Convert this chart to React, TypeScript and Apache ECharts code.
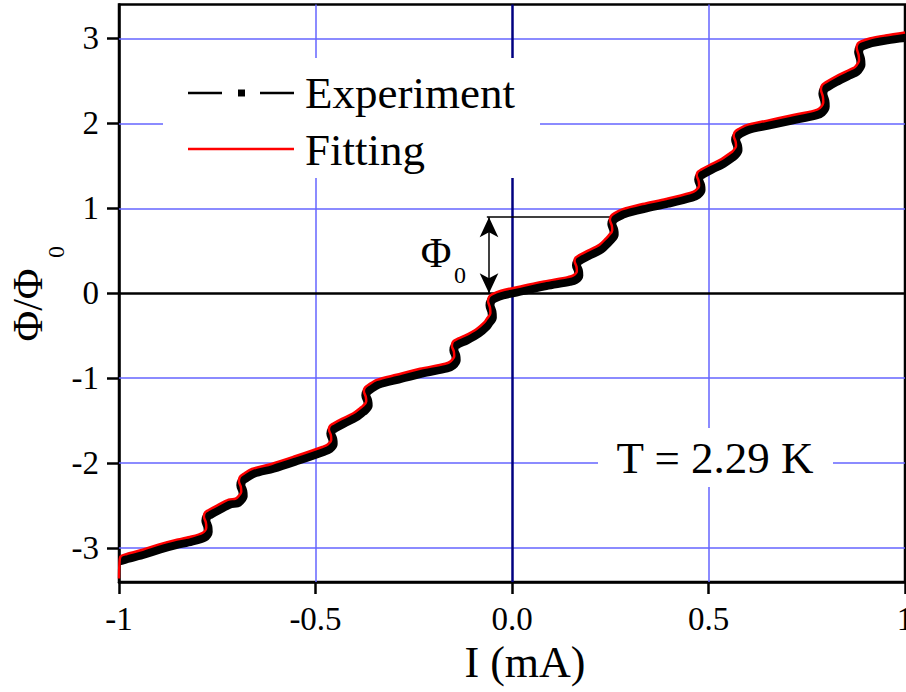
import React, { useEffect, useRef } from "react";
import * as echarts from "echarts";

// Fitting curve: current (mA)
const fittingI = [
  -1.0, -0.999, -0.996, -0.98, -0.94, -0.9, -0.86, -0.82,
  -0.787, -0.778, -0.779, -0.784, -0.781, -0.773, -0.751, -0.721, -0.704, -0.698, -0.689, -0.69, -0.695, -0.692, -0.684, -0.662, -0.612, -0.552, -0.483,
  -0.469, -0.46, -0.461, -0.466, -0.463, -0.455, -0.433, -0.403, -0.386, -0.38, -0.371, -0.372, -0.377, -0.374, -0.366, -0.344, -0.294, -0.234, -0.17,
  -0.156, -0.147, -0.148, -0.153, -0.15, -0.142, -0.12, -0.09, -0.07, -0.064, -0.055, -0.056, -0.061, -0.058, -0.05, -0.028, 0.022, 0.082, 0.142,
  0.156, 0.165, 0.164, 0.159, 0.162, 0.17, 0.192, 0.222, 0.24, 0.246, 0.255, 0.254, 0.249, 0.252, 0.26, 0.282, 0.332, 0.392, 0.453,
  0.467, 0.476, 0.475, 0.47, 0.473, 0.481, 0.503, 0.533, 0.555, 0.561, 0.57, 0.569, 0.564, 0.567, 0.575, 0.597, 0.647, 0.707, 0.769,
  0.783, 0.792, 0.791, 0.786, 0.789, 0.797, 0.819, 0.849, 0.868, 0.874, 0.883, 0.882, 0.877, 0.88, 0.888, 0.91, 0.95, 1.0,
];

// Fitting curve: Φ/Φ0
const fittingPhi = [
  -3.36, -3.2, -3.1, -3.07, -3.02, -2.96, -2.91, -2.87,
  -2.82, -2.76, -2.7, -2.63, -2.58, -2.555, -2.5, -2.43, -2.42, -2.4, -2.34, -2.28, -2.21, -2.16, -2.13, -2.07, -2.01, -1.92, -1.81,
  -1.78, -1.725, -1.67, -1.6, -1.56, -1.535, -1.48, -1.41, -1.35, -1.33, -1.275, -1.22, -1.15, -1.11, -1.08, -1.02, -0.96, -0.89, -0.83,
  -0.8, -0.74, -0.685, -0.62, -0.57, -0.545, -0.5, -0.42, -0.34, -0.3, -0.235, -0.17, -0.09, -0.04, -0.01, 0.03, 0.08, 0.14, 0.19,
  0.21, 0.26, 0.315, 0.38, 0.42, 0.445, 0.5, 0.57, 0.65, 0.68, 0.74, 0.795, 0.865, 0.91, 0.94, 0.99, 1.05, 1.11, 1.18,
  1.21, 1.265, 1.32, 1.39, 1.43, 1.455, 1.51, 1.58, 1.65, 1.67, 1.73, 1.785, 1.855, 1.9, 1.93, 1.98, 2.03, 2.09, 2.15,
  2.18, 2.25, 2.315, 2.4, 2.45, 2.48, 2.54, 2.61, 2.65, 2.67, 2.74, 2.805, 2.89, 2.94, 2.965, 3.0, 3.035, 3.07,
];

// Experiment: current (mA)
const experimentI = [
  -1.0, -0.998, -0.99, -0.975, -0.935, -0.895, -0.855, -0.815,
  -0.782, -0.773, -0.774, -0.779, -0.776, -0.768, -0.746, -0.716, -0.699, -0.693, -0.684, -0.685, -0.69, -0.687, -0.679, -0.657, -0.607, -0.547, -0.478,
  -0.464, -0.455, -0.456, -0.461, -0.458, -0.45, -0.428, -0.398, -0.381, -0.375, -0.366, -0.367, -0.372, -0.369, -0.361, -0.339, -0.289, -0.229, -0.165,
  -0.151, -0.142, -0.143, -0.148, -0.145, -0.137, -0.115, -0.085, -0.065, -0.059, -0.05, -0.051, -0.056, -0.053, -0.045, -0.023, 0.027, 0.087, 0.147,
  0.161, 0.17, 0.169, 0.164, 0.167, 0.175, 0.197, 0.227, 0.245, 0.251, 0.26, 0.259, 0.254, 0.257, 0.265, 0.287, 0.337, 0.397, 0.458,
  0.472, 0.481, 0.48, 0.475, 0.478, 0.486, 0.508, 0.538, 0.56, 0.566, 0.575, 0.574, 0.569, 0.572, 0.58, 0.602, 0.652, 0.712, 0.774,
  0.788, 0.797, 0.796, 0.791, 0.794, 0.802, 0.824, 0.854, 0.873, 0.879, 0.888, 0.887, 0.882, 0.885, 0.893, 0.915, 0.955, 1.0,
];

// Experiment: Φ/Φ0
const experimentPhi = [
  -3.15, -3.15, -3.14, -3.12, -3.07, -3.01, -2.96, -2.92,
  -2.87, -2.81, -2.75, -2.68, -2.63, -2.605, -2.55, -2.48, -2.47, -2.45, -2.39, -2.33, -2.26, -2.21, -2.18, -2.12, -2.06, -1.97, -1.86,
  -1.83, -1.775, -1.72, -1.65, -1.61, -1.585, -1.53, -1.46, -1.4, -1.38, -1.325, -1.27, -1.2, -1.16, -1.13, -1.07, -1.01, -0.94, -0.88,
  -0.85, -0.79, -0.735, -0.67, -0.62, -0.595, -0.55, -0.47, -0.39, -0.35, -0.285, -0.22, -0.14, -0.09, -0.06, -0.02, 0.03, 0.09, 0.14,
  0.16, 0.21, 0.265, 0.33, 0.37, 0.395, 0.45, 0.52, 0.6, 0.63, 0.69, 0.745, 0.815, 0.86, 0.89, 0.94, 1.0, 1.06, 1.13,
  1.16, 1.215, 1.27, 1.34, 1.38, 1.405, 1.46, 1.53, 1.6, 1.62, 1.68, 1.735, 1.805, 1.85, 1.88, 1.93, 1.98, 2.04, 2.1,
  2.13, 2.2, 2.265, 2.35, 2.4, 2.43, 2.49, 2.56, 2.6, 2.62, 2.69, 2.755, 2.84, 2.89, 2.915, 2.95, 2.985, 3.01,
];

const yTicks = [-3, -2, -1, 0, 1, 2, 3];
const blueGridY = [-3, -2, -1, 1, 2, 3];
const blueGridX = [-0.5, 0.5];
// Φ0 annotation (data coordinates)
const arrowI = -0.0585;
const phi0Level = 0.895;
const phi0LineStart = -0.064;
const phi0LineEnd = 0.254;

export default function App() {
  const ref = useRef<HTMLDivElement>(null);
  useEffect(() => {
    const chart = echarts.init(ref.current!, null, { renderer: "svg" });
    const serif = "'Liberation Serif', 'Times New Roman', serif";
    const fitData = fittingI.map((x, i) => [x, fittingPhi[i]]);
    const expData = experimentI.map((x, i) => [x, experimentPhi[i]]);
    const blue = "#6464ff";

    const gridLines: any[] = [
      ...blueGridY.map((v) => ({ yAxis: v, lineStyle: { color: blue, width: 1.5, type: "solid" } })),
      ...blueGridX.map((v) => ({ xAxis: v, lineStyle: { color: blue, width: 1.5, type: "solid" } })),
      { xAxis: 0, lineStyle: { color: "#000080", width: 2.5, type: "solid" } },
      { yAxis: 0, lineStyle: { color: "#000", width: 2.5, type: "solid" } },
      [
        { coord: [phi0LineStart, phi0Level], symbol: "none", lineStyle: { color: "#000", width: 1.5, type: "solid" } },
        { coord: [phi0LineEnd, phi0Level], symbol: "none" },
      ],
      [
        { coord: [arrowI, 0], symbol: "arrow", symbolSize: [14, 20], lineStyle: { color: "#000", width: 1.5, type: "solid" } },
        { coord: [arrowI, phi0Level], symbol: "arrow", symbolSize: [14, 20] },
      ],
    ];

    const textStyle = (text: string, size: number, align = "center") => ({
      text,
      fontSize: size,
      fontFamily: serif,
      fill: "#000",
      align,
      verticalAlign: "middle",
      textAlign: align,
      textVerticalAlign: "middle",
    });

    chart.setOption({
      animation: false,
      backgroundColor: "#fff",
      grid: {
        left: 119,
        top: 4.5,
        right: 1,
        bottom: 110,
        show: true,
        borderColor: "#000",
        borderWidth: 2.5,
        backgroundColor: "transparent",
        outerBoundsMode: "none",
        containLabel: false,
      },
      xAxis: {
        type: "value",
        min: -1,
        max: 1,
        interval: 0.5,
        axisLine: { show: true, onZero: false, lineStyle: { color: "#000", width: 2.5 } },
        axisTick: { show: true, inside: false, length: 12, lineStyle: { color: "#000", width: 2.5 } },
        axisLabel: {
          show: true,
          margin: 20,
          fontSize: 33,
          fontFamily: serif,
          color: "#000",
          showMinLabel: true,
          showMaxLabel: true,
          formatter: (v: number) => (v === -1 ? "-1" : v === 1 ? "1" : v.toFixed(1)),
        },
        splitLine: { show: false },
      },
      yAxis: {
        type: "value",
        min: -3.4,
        max: 3.4,
        axisLine: { show: true, onZero: false, lineStyle: { color: "#000", width: 2.5 } },
        axisTick: { show: true, inside: false, length: 12, customValues: yTicks, lineStyle: { color: "#000", width: 2.5 } },
        axisLabel: {
          show: true,
          margin: 20,
          fontSize: 33,
          fontFamily: serif,
          color: "#000",
          customValues: yTicks,
          formatter: (v: number) => String(v),
        },
        splitLine: { show: false },
      },
      series: [
        {
          type: "line",
          data: [],
          silent: true,
          z: 1,
          markLine: {
            z: 1,
            silent: true,
            symbol: ["none", "none"],
            label: { show: false },
            emphasis: { disabled: true },
            data: gridLines,
          },
        },
        {
          name: "Experiment",
          type: "line",
          data: expData,
          showSymbol: false,
          smooth: 0.3,
          z: 3,
          lineStyle: { color: "#000", width: 9 },
        },
        {
          name: "Fitting",
          type: "line",
          data: fitData,
          showSymbol: false,
          smooth: 0.3,
          z: 4,
          lineStyle: { color: "#ff0000", width: 2.5 },
        },
      ],
      graphic: [
        { type: "rect", z: 50, shape: { x: 163, y: 58, width: 377, height: 120 }, style: { fill: "#fff" } },
        { type: "line", z: 51, shape: { x1: 188, y1: 93, x2: 222, y2: 93 }, style: { stroke: "#000", lineWidth: 2.5 } },
        { type: "rect", z: 51, shape: { x: 238, y: 89.5, width: 7, height: 7 }, style: { fill: "#000" } },
        { type: "line", z: 51, shape: { x1: 260, y1: 93, x2: 294, y2: 93 }, style: { stroke: "#000", lineWidth: 2.5 } },
        { type: "text", z: 51, x: 305, y: 93, style: textStyle("Experiment", 45, "left") },
        { type: "line", z: 51, shape: { x1: 188, y1: 149, x2: 294, y2: 149 }, style: { stroke: "#ff0000", lineWidth: 2.5 } },
        { type: "text", z: 51, x: 305, y: 150, style: textStyle("Fitting", 45, "left") },
        { type: "rect", z: 50, shape: { x: 598, y: 428, width: 235, height: 59 }, style: { fill: "#fff" } },
        { type: "text", z: 51, x: 715, y: 458, style: textStyle("T = 2.29 K", 45) },
        { type: "text", z: 51, x: 436, y: 253, style: textStyle("Φ", 42) },
        { type: "text", z: 51, x: 460, y: 275, style: textStyle("0", 24) },
        { type: "text", z: 51, x: 525, y: 662, style: textStyle("I (mA)", 44) },
        { type: "text", z: 51, x: 28, y: 305, rotation: Math.PI / 2, style: textStyle("Φ/Φ", 42) },
        { type: "text", z: 51, x: 56, y: 252, rotation: Math.PI / 2, style: textStyle("0", 24) },
      ],
    });
    return () => chart.dispose();
  }, []);
  return (
    <div
      ref={ref}
      style={{ position: "fixed", left: 0, top: 0, width: 906, height: 692, background: "#fff" }}
    />
  );
}
